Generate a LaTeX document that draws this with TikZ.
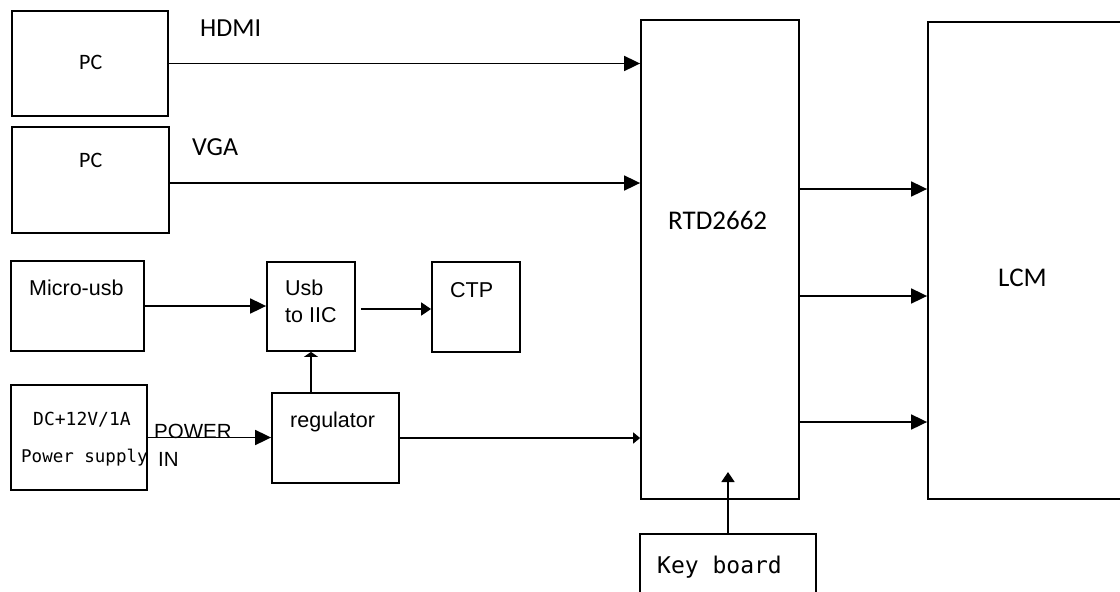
\documentclass[tikz,border=0pt]{standalone}
\usepackage{fontspec}
\usepackage{tikz}
\usetikzlibrary{positioning, calc, arrows.meta}
\newfontfamily\calib{Carlito}
\newfontfamily\arialf{Liberation Sans}
\newfontfamily\monof{DejaVu Sans Mono}
\newcommand{\fs}[1]{\fontsize{#1}{#1}\selectfont}

\tikzset{
    blk/.style={draw, line width=1.8pt, inner sep=0pt, rectangle},
    txt/.style={inner sep=0pt, anchor=base west},
    arr/.style={line width=1.8pt, -{Triangle[length=16pt,width=15pt]}},
    arrsm/.style={line width=1.8pt, -{Triangle[length=7pt,width=11pt]}},
    arrflat/.style={line width=1.8pt, -{Triangle[length=5pt,width=14pt]}},
    arrmid/.style={line width=1.8pt, -{Triangle[length=10pt,width=13pt]}},
}

\begin{document}
\begin{tikzpicture}[x=1pt, y=-1pt]
    \useasboundingbox (0,0) rectangle (1120,592);

    %sources
    \node[blk, minimum width=156pt, minimum height=105pt] (pc1) at (90,63.5) {};
    \node[blk, minimum width=157pt, minimum height=106pt] (pc2) at (90.5,180) {};
    \node[blk, minimum width=133pt, minimum height=90pt] (micro) at (77.5,306) {};
    \node[blk, minimum width=136pt, minimum height=105pt] (dc) at (79,437.5) {};

    %middle blocks
    \node[blk, minimum width=88pt, minimum height=89pt] (usb) at (311,306.5) {};
    \node[blk, minimum width=88pt, minimum height=90pt] (ctp) at (476,307) {};
    \node[blk, minimum width=127pt, minimum height=90pt] (reg) at (335.5,438) {};

    %scaler, panel, keys
    \node[blk, minimum width=158pt, minimum height=479pt] (rtd) at (720,259.5) {};
    \node[blk, minimum width=212pt, minimum height=477pt] (lcm) at (1034,260.5) {};
    \node[blk, minimum width=176pt, minimum height=76pt] (keyb) at (728,572) {};

    %texts
    \node[txt] (pc1t) at (79,69) {\calib\fs{22}PC};
    \node[txt] (pc2t) at (79,167) {\calib\fs{22}PC};
    \node[txt] (hdmi) at (200,36) {\calib\fs{26}HDMI};
    \node[txt] (vga) at (192,155) {\calib\fs{26}VGA};
    \node[txt] (rtdt) at (668,229) {\calib\fs{27}RTD2662};
    \node[txt] (lcmt) at (998,286) {\calib\fs{27}LCM};
    \node[txt] (microt) at (29,295) {\arialf\fs{21.5}Micro-usb};
    \node[txt] (usbt1) at (285,295) {\arialf\fs{21.5}Usb};
    \node[txt] (usbt2) at (285,322) {\arialf\fs{21.5}to IIC};
    \node[txt] (ctpt) at (450,297) {\arialf\fs{21.5}CTP};
    \node[txt] (regt) at (290,427) {\arialf\fs{21.5}regulator};
    \node[txt] (pwr) at (154,438) {\arialf\fs{20.5}POWER};
    \node[txt] (pin) at (158,466) {\arialf\fs{20.5}IN};
    \node[txt] (dct1) at (33,425) {\monof\fs{18}DC+12V/1A};
    \node[txt] (dct2) at (21,462) {\monof\fs{17.5}Power supply};
    \node[txt] (keybt) at (657,573) {\monof\fs{23}Key board};

    %video inputs
    \draw[arr] (pc1.east) -- (pc1.east -| rtd.west);
    \draw[arr] (pc2.east |- 0,183) -- (rtd.west |- 0,183);
    %to panel
    \foreach \yy in {189,296,422}
        \draw[arr] (rtd.east |- 0,\yy) -- (lcm.west |- 0,\yy);
    %touch path
    \draw[arr] (micro.east) -- (micro.east -| usb.west);
    \draw[arrmid] ([xshift=5pt]usb.east |- 0,309) -- (ctp.west |- 0,309);
    %power path
    \draw[arr] (dc.east) -- (dc.east -| reg.west);
    \draw[arrflat] (usb.south |- reg.north) -- (usb.south);
    \draw[arrsm] (reg.east) -- (reg.east -| rtd.west);
    %keys
    \draw[arrmid] (keyb.north) -- (keyb.north |- 0,472);
\end{tikzpicture}
\end{document}
